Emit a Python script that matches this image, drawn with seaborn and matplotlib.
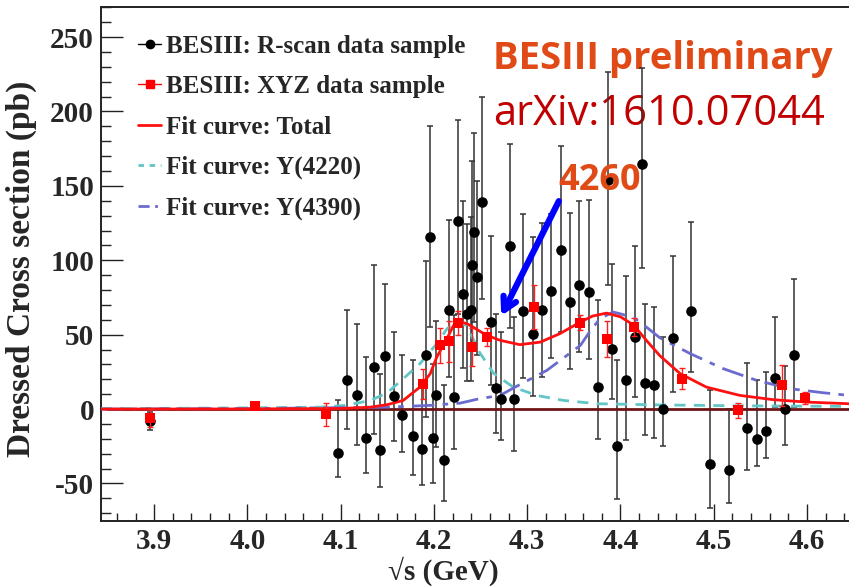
# BESIII dressed cross section vs sqrt(s)

import seaborn as sns
import matplotlib.pyplot as plt
import pandas as pd
from matplotlib.lines import Line2D

# R-scan data (black points)
rscan_x = [3.896, 4.097, 4.107, 4.117, 4.127, 4.136, 4.142, 4.147, 4.157, 4.166,
           4.177, 4.187, 4.191, 4.196, 4.199, 4.202, 4.211, 4.216, 4.221, 4.226,
           4.231, 4.235, 4.240, 4.241, 4.243, 4.246, 4.252, 4.261, 4.266, 4.272,
           4.282, 4.286, 4.296, 4.306, 4.316, 4.326, 4.336, 4.346, 4.356, 4.366,
           4.376, 4.387, 4.391, 4.396, 4.406, 4.416, 4.423, 4.426, 4.436, 4.446,
           4.456, 4.476, 4.496, 4.516, 4.536, 4.546, 4.556, 4.566, 4.576, 4.586]
rscan_y = [-8, -29.6, 19.8, 9.2, -19.2, 28.5, -27.3, 35.9, 8.5, -3.8,
           -18.3, -26.9, 36.6, 115.4, -19.5, 9.2, -34, 66.8, 8.1, 126.1,
           77.6, 64.1, 66.8, 97, 118.8, 88.5, 138.9, 58.5, 14.1, 7,
           109.3, 7, 65.9, 50.7, 66.3, 79.3, 107.1, 71.9, 83.6, 78.6,
           14.6, 153.7, 40.6, -25.1, 19.3, 48.4, 164.9, 17.7, 15.9, 0.3,
           47.7, 65.7, -37.2, -41.2, -12.8, -20.4, -14.8, 21.1, -0.2, 36.6]
rscan_lo = [6, 16, 33, 33, 24, 45, 25, 35, 30, 25,
            26, 24, 42, 60, 30, 35, 28, 45, 35, 62,
            50, 45, 48, 55, 60, 52, 65, 42, 30, 28,
            55, 35, 45, 42, 45, 45, 55, 45, 45, 45,
            35, 70, 34, 35, 40, 40, 70, 35, 35, 25,
            36, 41, 29, 22, 28, 18, 18, 20, 24, 35]
rscan_hi = [6, 36, 47, 48, 54, 68, 51, 48, 43, 40,
            51, 46, 63, 75, 50, 50, 50, 60, 55, 68,
            62, 60, 62, 70, 67, 65, 71, 58, 50, 45,
            69, 55, 65, 65, 59, 52, 70, 60, 56, 62,
            59, 73, 57, 58, 70, 61, 64, 53, 53, 48,
            55, 60, 50, 41, 44, 40, 40, 41, 29, 51]

# XYZ data (red squares)
xyz_x = [3.896, 4.008, 4.084, 4.188, 4.206, 4.216, 4.226, 4.241, 4.257,
         4.307, 4.357, 4.386, 4.415, 4.466, 4.526, 4.573, 4.598]
xyz_y = [-6, 2.3, -3.6, 17.1, 42.8, 45.5, 58.1, 41.7, 48.2,
         68.5, 58.1, 47.3, 55.1, 20.4, -0.9, 15.9, 7.4]
xyz_err = [6, 2, 8, 10, 12, 14, 8, 13, 6, 15, 5, 12, 6, 7, 5, 14, 4]

# fit curves
total_x = [3.843, 4.0, 4.1, 4.132, 4.150, 4.167, 4.185, 4.196, 4.203, 4.212,
           4.221, 4.228, 4.235, 4.242, 4.250, 4.257, 4.271, 4.292, 4.314, 4.335,
           4.357, 4.370, 4.385, 4.400, 4.414, 4.428, 4.442, 4.464, 4.492, 4.528,
           4.564, 4.600, 4.645]
total_y = [0, 0.1, 0.4, 1.3, 3, 5.8, 14.8, 23.8, 35, 45,
           56.2, 58.5, 57.5, 55.1, 52, 49.5, 46.2, 43.3, 45, 50.7,
           58.5, 62.5, 64.5, 62, 56.5, 46, 36, 23.8, 14.8, 9.2,
           6.3, 4.7, 3.6]

y4220_x = [3.843, 4.0, 4.078, 4.105, 4.132, 4.150, 4.167, 4.185, 4.203, 4.214,
           4.224, 4.235, 4.249, 4.264, 4.285, 4.310, 4.339, 4.375, 4.442, 4.528,
           4.645]
y4220_y = [0.3, 0.8, 1.3, 2.5, 5.8, 11, 20.4, 30.5, 44, 54,
           58.9, 56.2, 38, 24, 14.8, 9.2, 5.8, 3.6, 2.8, 2.2,
           1.8]

y4390_x = [3.843, 4.0, 4.149, 4.196, 4.228, 4.249, 4.271, 4.285, 4.321, 4.357,
           4.367, 4.378, 4.392, 4.400, 4.414, 4.428, 4.442, 4.475, 4.510, 4.546,
           4.582, 4.617, 4.645]
y4390_y = [0, 0.3, 1.3, 2.5, 4, 7, 9.2, 14.1, 26, 42.8,
           52, 60.8, 65.2, 64, 61.5, 55, 48, 37.2, 27.2, 19.3,
           13.7, 11, 9.2]

rscan = pd.DataFrame({"x": rscan_x, "y": rscan_y})
xyz = pd.DataFrame({"x": xyz_x, "y": xyz_y})

sns.set_style("ticks")
plt.rcParams['font.family'] = ['Liberation Serif', 'DejaVu Serif']
plt.rcParams['font.weight'] = 'bold'

fig = plt.figure(figsize=(8.49, 5.86), dpi=100)
ax = fig.add_axes([101 / 849, 1 - 520.7 / 586, 1 - 101 / 849, 513.4 / 586])

# zero line
ax.axhline(0, xmin=0.008, color='#6e1414', lw=2, zorder=2.5)

# fit curves
sns.lineplot(x=y4220_x, y=y4220_y, color='#62c6c6', lw=2, ax=ax,
             sort=False, estimator=None, zorder=3, linestyle=(0, (4, 3)))
sns.lineplot(x=y4390_x, y=y4390_y, color='#6b6bcf', lw=2, ax=ax,
             sort=False, estimator=None, zorder=3, linestyle=(0, (8, 3, 2, 3)))
sns.lineplot(x=total_x, y=total_y, color='#ff1010', lw=2, ax=ax,
             sort=False, estimator=None, zorder=3.2)

# data
ax.errorbar(rscan_x, rscan_y, yerr=[rscan_lo, rscan_hi], fmt='none',
            ecolor='#333333', elinewidth=1.1, capsize=2.5, capthick=1.1, zorder=2)
sns.scatterplot(data=rscan, x="x", y="y", color='black', marker='o', s=58,
                edgecolor='black', linewidth=0, ax=ax, zorder=4)
ax.errorbar(xyz_x, xyz_y, yerr=xyz_err, fmt='none', ecolor='#ff2020',
            elinewidth=1, capsize=2.5, capthick=1, zorder=4.5)
sns.scatterplot(data=xyz, x="x", y="y", color='#ff0000', marker='s', s=55,
                linewidth=0, ax=ax, zorder=5)

ax.set_xlim(3.843, 4.645)
ax.set_ylim(-75, 270)
ax.set_xticks([3.9, 4.0, 4.1, 4.2, 4.3, 4.4, 4.5, 4.6])
ax.set_xticks([3.86 + 0.02 * i for i in range(40)], minor=True)
ax.set_yticks([-50, 0, 50, 100, 150, 200, 250])
ax.set_yticks(range(-70, 271, 10), minor=True)
ax.set_xticklabels(["3.9", "4.0", "4.1", "4.2", "4.3", "4.4", "4.5", "4.6"])
ax.set_yticklabels(["-50", "0", "50", "100", "150", "200", "250"])
ax.tick_params(axis='both', which='both', direction='in', width=1, color='#222222',
               labelsize=21, pad=5)
ax.tick_params(axis='x', which='major', length=12)
ax.tick_params(axis='x', which='minor', length=6)
ax.tick_params(axis='y', which='major', length=16)
ax.tick_params(axis='y', which='minor', length=7)
for lab in ax.get_xticklabels() + ax.get_yticklabels():
    lab.set_fontweight('bold')

ax.spines['right'].set_visible(False)
for s in ['left', 'bottom', 'top']:
    ax.spines[s].set_linewidth(1.4)
    ax.spines[s].set_color('#222222')

ax.set_xlabel("√s (GeV)", fontsize=21, fontweight='bold')
ax.xaxis.set_label_coords(0.457, -0.07)
ax.set_ylabel("Dressed Cross section (pb)", fontsize=24, fontweight='bold')
ax.yaxis.set_label_coords(-0.085, 0.49)

handles = [
    Line2D([], [], color='black', marker='o', markersize=6, lw=1),
    Line2D([], [], color='#ff0000', marker='s', markersize=6, lw=1),
    Line2D([], [], color='#ff1010', lw=2),
    Line2D([], [], color='#62c6c6', lw=2, linestyle=(0, (2, 2))),
    Line2D([], [], color='#6b6bcf', lw=2, linestyle=(0, (4, 2, 1, 2))),
]
labels = ["BESIII: R-scan data sample", "BESIII: XYZ data sample",
          "Fit curve: Total", "Fit curve: Y(4220)", "Fit curve: Y(4390)"]
ax.legend(handles, labels, loc='upper left', bbox_to_anchor=(0.05, 0.947),
          frameon=False, borderpad=0, borderaxespad=0, handlelength=0.9,
          handletextpad=0.2, labelspacing=0.7,
          prop={'family': 'Liberation Serif', 'weight': 'bold', 'size': 18})

# annotations
ax.text(4.445, 235, "BESIII preliminary", color='#e04a17', fontsize=27.5,
        fontweight='bold', family=['Open Sans', 'DejaVu Sans'], ha='center', va='center',
        zorder=1.5)
ax.text(4.441, 198, "arXiv:1610.07044", color='#c00000', fontsize=30,
        fontweight='normal', family=['Open Sans', 'DejaVu Sans'], ha='center', va='center',
        zorder=1.5)
ax.text(4.378, 153.5, "4260", color='#e04a17', fontsize=26, fontweight='bold',
        family=['Open Sans', 'DejaVu Sans'], ha='center', va='center', zorder=6)
ax.annotate("", xy=(4.2708, 61), xytext=(4.3352, 141.4),
            arrowprops=dict(arrowstyle='->,head_length=0.9,head_width=0.5',
                            color='#0000ff', lw=4.5), zorder=6)

fig.savefig("out.png", dpi=100)
